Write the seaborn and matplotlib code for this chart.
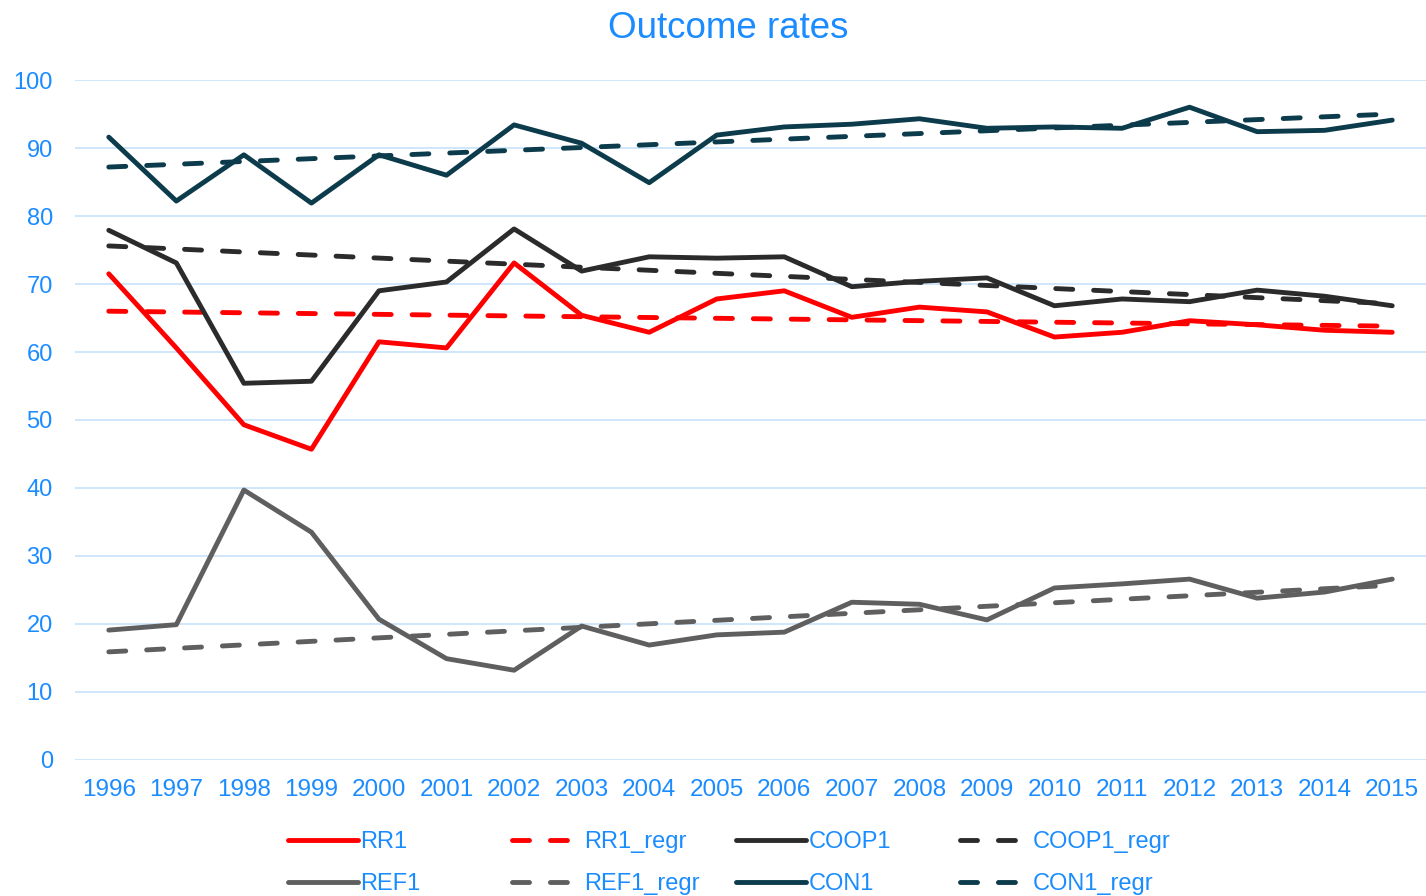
import matplotlib
matplotlib.use("Agg")
import matplotlib.pyplot as plt
import seaborn as sns
import pandas as pd

years = list(range(1996, 2016))
rr1 = [71.5, 60.6, 49.3, 45.7, 61.5, 60.6, 73.1, 65.4, 62.9, 67.8,
       69.0, 65.1, 66.6, 65.9, 62.2, 62.9, 64.6, 64.0, 63.2, 62.9]
coop1 = [77.9, 73.1, 55.4, 55.7, 69.0, 70.3, 78.1, 71.9, 74.0, 73.8,
         74.0, 69.6, 70.4, 70.9, 66.8, 67.8, 67.4, 69.1, 68.2, 66.8]
ref1 = [19.1, 19.9, 39.7, 33.5, 20.7, 14.9, 13.2, 19.7, 16.9, 18.4,
        18.8, 23.2, 22.9, 20.6, 25.3, 25.9, 26.6, 23.8, 24.7, 26.6]
con1 = [91.6, 82.2, 89.0, 81.9, 89.0, 86.0, 93.4, 90.7, 84.9, 91.9,
        93.1, 93.5, 94.3, 92.9, 93.1, 92.9, 96.0, 92.4, 92.6, 94.1]

regr_years = [1996, 2015]
rr1_regr = [66.0, 63.8]
coop1_regr = [75.6, 67.1]
ref1_regr = [15.9, 25.7]
con1_regr = [87.2, 95.0]

title = "Outcome rates"
y_ticks = [0, 10, 20, 30, 40, 50, 60, 70, 80, 90, 100]

sns.set_theme(style="white")
plt.rcParams['font.family'] = ['Liberation Sans', 'DejaVu Sans']

TXT = "#1A8CFF"
GRID = "#CCE4FA"
C_RR = "#FF0000"
C_COOP = "#2B2B2B"
C_REF = "#5F5F5F"
C_CON = "#0C3B4C"

fig = plt.figure(figsize=(14.26, 8.96), dpi=100)
ax = fig.add_axes([0.0526, 0.1518, 0.9474, 0.7589])

LW = 3.5
DASH = (3.5, 4.3)
main = [("RR1", rr1, C_RR), ("COOP1", coop1, C_COOP), ("REF1", ref1, C_REF), ("CON1", con1, C_CON)]
regs = [("RR1_regr", rr1_regr, C_RR), ("COOP1_regr", coop1_regr, C_COOP),
        ("REF1_regr", ref1_regr, C_REF), ("CON1_regr", con1_regr, C_CON)]

handles = {}
for name, vals, col in regs:
    df = pd.DataFrame({"year": regr_years, "v": vals})
    sns.lineplot(data=df, x="year", y="v", ax=ax, color=col, lw=LW,
                 label=name, zorder=3)
    ln = ax.get_lines()[-1]
    ln.set_dashes(DASH)
    ln.set_dash_capstyle("round")
    handles[name] = ln
for name, vals, col in main:
    df = pd.DataFrame({"year": years, "v": vals})
    sns.lineplot(data=df, x="year", y="v", ax=ax, color=col, lw=LW, label=name, zorder=4)
    ln = ax.get_lines()[-1]
    ln.set_solid_capstyle("round")
    ln.set_solid_joinstyle("round")
    handles[name] = ln

ax.set_xlim(1995.5, 2015.5)
ax.set_ylim(0, 100)
ax.set_yticks(y_ticks)
ax.set_xticks(years)
ax.set_xticklabels([str(y) for y in years])
ax.grid(axis="y", color=GRID, lw=1.3)
ax.set_axisbelow(True)
for s in ax.spines.values():
    s.set_visible(False)
ax.tick_params(axis="both", colors=TXT, labelsize=17, length=0)
ax.tick_params(axis="x", labelsize=17.5, pad=14)
ax.tick_params(axis="y", pad=16)
ax.set_xlabel("")
ax.set_ylabel("")
if ax.legend_:
    ax.legend_.remove()
fig.text(0.5105, 1 - 29 / 896, title, color=TXT, fontsize=26.5, ha="center", va="center")

columns = [["RR1", "REF1"], ["RR1_regr", "REF1_regr"], ["COOP1", "CON1"], ["COOP1_regr", "CON1_regr"]]
col_x = [288, 512, 736, 960]
for names, xpx in zip(columns, col_x):
    hs = []
    for n in names:
        src = handles[n]
        h = matplotlib.lines.Line2D([], [], color=src.get_color(), lw=LW,
                                    solid_capstyle="round", dash_capstyle="round")
        if n.endswith("_regr"):
            h.set_dashes(DASH)
        hs.append(h)
    fig.legend(hs, names, loc="center left",
               bbox_to_anchor=(xpx / 1426, 1 - 863 / 896),
               frameon=False, fontsize=17, handlelength=2.95,
               handletextpad=0.12, labelspacing=0.85,
               borderpad=0, borderaxespad=0, labelcolor=TXT)

fig.savefig("out.png", dpi=100)
